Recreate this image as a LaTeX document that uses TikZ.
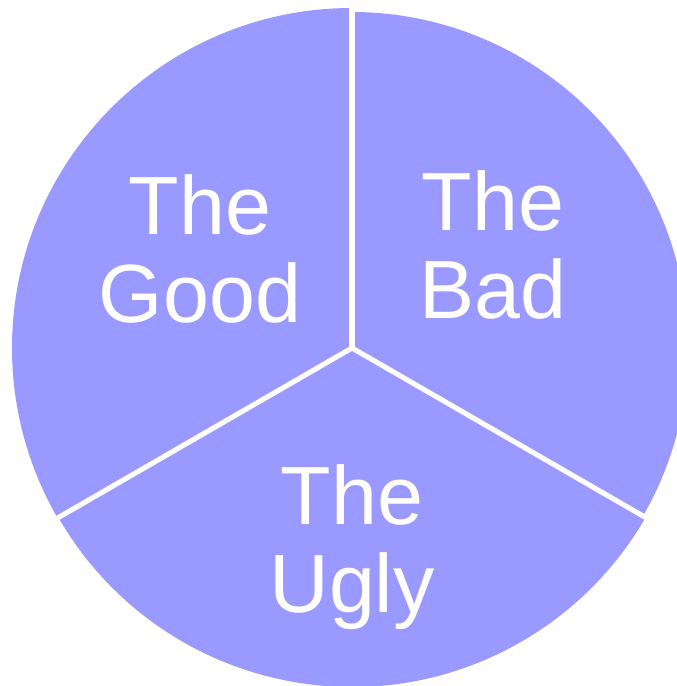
\documentclass[tikz,border=0pt]{standalone}
\usepackage{fontspec}
\setsansfont{Liberation Sans}
\definecolor{piefill}{RGB}{153,153,255}

\begin{document}
\begin{tikzpicture}[x=0.75pt,y=0.75pt]
\tikzset{
  slice/.style={fill=piefill},
  divider/.style={draw=white,line width=3.8pt},
  slicelabel/.style={text=white,font=\sffamily\fontsize{62}{66}\selectfont,align=center,inner sep=0pt}
}
\useasboundingbox (0,0) rectangle (677,686);
\coordinate (c) at (352,338);
% the three slices
\fill[slice] (c) -- ++(90:340) arc[start angle=90,end angle=210,radius=340] -- cycle;
\fill[slice] (c) -- ++(-30:336) arc[start angle=-30,end angle=90,radius=336] -- cycle;
\fill[slice] (c) -- ++(210:339) arc[start angle=210,end angle=330,radius=339] -- cycle;
% white gaps between them
\draw[divider] (c) -- ++(90:345);
\draw[divider] (c) -- ++(210:345);
\draw[divider] (c) -- ++(330:345);
\node[slicelabel] (n_good) at (200,437) {The\\Good};
\node[slicelabel] (n_bad) at (493,441) {The\\Bad};
\node[slicelabel] (n_ugly) at (352,139) {The\\Ugly};
\end{tikzpicture}
\end{document}
